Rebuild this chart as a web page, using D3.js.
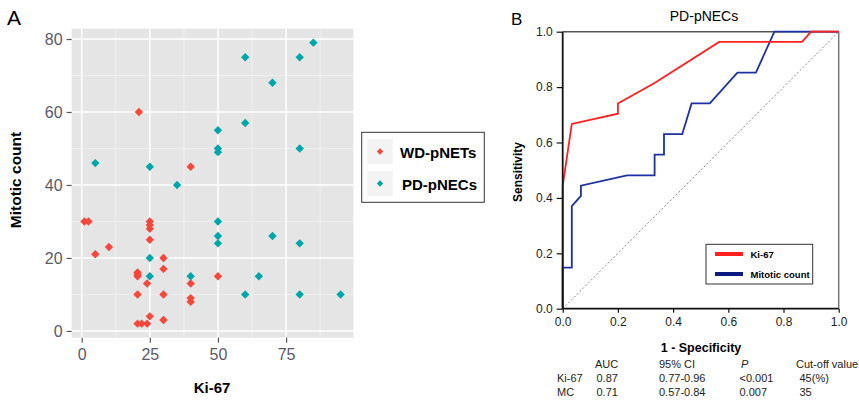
<!DOCTYPE html>
<html>
<head>
<meta charset="utf-8">
<script src="https://cdn.jsdelivr.net/npm/d3@7"></script>
<style>
  body { margin: 0; background: #fff; }
  text { font-family: "Liberation Sans", Arial, sans-serif; }
</style>
</head>
<body>
<div id="chart"></div>
<script>
// Panel A data: Ki-67 (%) vs mitotic count
var wdKi67     = [1, 2.5, 5, 10, 20.5, 20.5, 20.5, 20.5, 20.5, 22, 24, 24, 25, 25, 25, 25, 25, 30, 30, 30, 30, 40, 40, 40, 50, 21, 40];
var wdMitotic  = [30, 30, 21, 23, 16, 15.5, 15, 10, 2, 2, 2, 13, 30, 29, 28, 25, 4, 20, 17, 10, 3, 13, 9, 8, 15, 60, 45];
var pdKi67     = [5, 25, 35, 50, 50, 50, 60, 60, 70, 80, 85, 80, 50, 50, 50, 25, 25, 40, 60, 65, 70, 80, 80, 95];
var pdMitotic  = [46, 45, 40, 55, 50, 49, 75, 57, 68, 75, 79, 50, 30, 26, 24, 20, 15, 15, 10, 15, 26, 24, 10, 10];
var groupNames = ["WD-pNETs", "PD-pNECs"];
var xTicksA = [0, 25, 50, 75];
var yTicksA = [0, 20, 40, 60, 80];

// Panel B data: ROC curves (1 - specificity, sensitivity)
var ki67Fpr = [0, 0, 0.033, 0.2, 0.2, 0.333, 0.567, 0.867, 0.9, 1];
var ki67Tpr = [0, 0.444, 0.667, 0.704, 0.741, 0.815, 0.963, 0.963, 1, 1];
var mcFpr = [0, 0, 0.033, 0.033, 0.066, 0.066, 0.233, 0.333, 0.333, 0.367, 0.367, 0.433, 0.467, 0.533, 0.633, 0.7, 0.767, 1];
var mcTpr = [0, 0.148, 0.148, 0.37, 0.407, 0.444, 0.481, 0.481, 0.556, 0.556, 0.63, 0.63, 0.741, 0.741, 0.852, 0.852, 1, 1];
var rocNames = ["Ki-67", "Mitotic count"];
var ticksB = [0, 0.2, 0.4, 0.6, 0.8, 1.0];

// stats table under panel B
var tableHeader = ["", "AUC", "95% CI", "P", "Cut-off value"];
var tableRows = [
  ["Ki-67", "0.87", "0.77-0.96", "<0.001", "45(%)"],
  ["MC", "0.71", "0.57-0.84", "0.007", "35"]
];

var red = "#f5473c", teal = "#00a6a8";

var svg = d3.select("#chart").append("svg")
  .attr("width", 859).attr("height", 403);

// diamond marker (rotated square)
function diamond(r) {
  return "M0," + (-r) + "L" + r + ",0L0," + r + "L" + (-r) + ",0Z";
}

// ---------------- Panel A ----------------
var xA = d3.scaleLinear().domain([-3.7, 99.7]).range([71.6, 353.4]);
var yA = d3.scaleLinear().domain([-1.85, 82.85]).range([337.7, 28.6]);

var gA = svg.append("g");
gA.append("rect")
  .attr("x", xA.range()[0]).attr("y", yA.range()[1])
  .attr("width", xA.range()[1] - xA.range()[0])
  .attr("height", yA.range()[0] - yA.range()[1])
  .attr("fill", "#e5e5e5");

// minor grid
gA.selectAll(".xminor").data([12.5, 37.5, 62.5, 87.5]).enter().append("line")
  .attr("x1", d => xA(d)).attr("x2", d => xA(d))
  .attr("y1", yA.range()[0]).attr("y2", yA.range()[1])
  .attr("stroke", "#f2f2f2").attr("stroke-width", 0.8);
gA.selectAll(".yminor").data([10, 30, 50, 70]).enter().append("line")
  .attr("y1", d => yA(d)).attr("y2", d => yA(d))
  .attr("x1", xA.range()[0]).attr("x2", xA.range()[1])
  .attr("stroke", "#f2f2f2").attr("stroke-width", 0.8);
// major grid
gA.selectAll(".xmajor").data(xTicksA).enter().append("line")
  .attr("x1", d => xA(d)).attr("x2", d => xA(d))
  .attr("y1", yA.range()[0]).attr("y2", yA.range()[1])
  .attr("stroke", "#fff").attr("stroke-width", 1.5);
gA.selectAll(".ymajor").data(yTicksA).enter().append("line")
  .attr("y1", d => yA(d)).attr("y2", d => yA(d))
  .attr("x1", xA.range()[0]).attr("x2", xA.range()[1])
  .attr("stroke", "#fff").attr("stroke-width", 1.5);

// axes
var xAxisA = gA.append("g")
  .attr("transform", "translate(0," + yA.range()[0] + ")")
  .call(d3.axisBottom(xA).tickValues(xTicksA).tickSize(5).tickPadding(6));
var yAxisA = gA.append("g")
  .attr("transform", "translate(" + xA.range()[0] + ",0)")
  .call(d3.axisLeft(yA).tickValues(yTicksA).tickSize(5).tickPadding(4));
[xAxisA, yAxisA].forEach(function(ax) {
  ax.select(".domain").remove();
  ax.selectAll(".tick line").attr("stroke", "#555").attr("stroke-width", 1.2);
  ax.selectAll(".tick text").attr("fill", "#5a5a66")
    .style("font-size", "16px").style("font-family", "Liberation Sans, Arial, sans-serif");
});

// points
var wdPoints = wdKi67.map((k, i) => ({ x: k, y: wdMitotic[i] }));
var pdPoints = pdKi67.map((k, i) => ({ x: k, y: pdMitotic[i] }));
gA.selectAll(".wd").data(wdPoints).enter().append("path")
  .attr("d", diamond(4.2))
  .attr("transform", d => "translate(" + xA(d.x) + "," + yA(d.y) + ")")
  .attr("fill", red);
gA.selectAll(".pd").data(pdPoints).enter().append("path")
  .attr("d", diamond(4.2))
  .attr("transform", d => "translate(" + xA(d.x) + "," + yA(d.y) + ")")
  .attr("fill", teal);

// axis titles
gA.append("text").attr("x", 212).attr("y", 393)
  .attr("text-anchor", "middle").style("font-size", "15px").style("font-weight", "bold")
  .text("Ki-67");
gA.append("text").attr("transform", "translate(21,180) rotate(-90)")
  .attr("text-anchor", "middle").style("font-size", "15.5px").style("font-weight", "bold")
  .text("Mitotic count");

gA.append("text").attr("x", 7).attr("y", 25).style("font-size", "21px").text("A");

// legend A
var legA = svg.append("g");
legA.append("rect").attr("x", 361.7).attr("y", 132.3).attr("width", 122.6).attr("height", 70)
  .attr("fill", "#fff").attr("stroke", "#333").attr("stroke-width", 1);
groupNames.forEach(function(name, i) {
  var ky = 139 + i * 32;
  legA.append("rect").attr("x", 367.3).attr("y", ky).attr("width", 25.4).attr("height", 25)
    .attr("fill", "#f3f3f3");
  legA.append("path").attr("d", diamond(3.2))
    .attr("transform", "translate(380," + (ky + 12.5) + ")")
    .attr("fill", i === 0 ? red : teal);
  legA.append("text").attr("x", 400 + i * 2).attr("y", ky + 18.5)
    .style("font-size", "15px").style("font-weight", "bold").text(name);
});

// ---------------- Panel B ----------------
var xB = d3.scaleLinear().domain([0, 1]).range([562.7, 838.7]);
var yB = d3.scaleLinear().domain([0, 1]).range([308.7, 31.7]);
var gB = svg.append("g");

// frame top & right
gB.append("line").attr("x1", xB(0)).attr("x2", xB(1)).attr("y1", yB(1)).attr("y2", yB(1))
  .attr("stroke", "#555").attr("stroke-width", 1.5);
gB.append("line").attr("x1", xB(1)).attr("x2", xB(1)).attr("y1", yB(0)).attr("y2", yB(1))
  .attr("stroke", "#777").attr("stroke-width", 1.5);

// reference diagonal
gB.append("line").attr("x1", xB(0)).attr("y1", yB(0)).attr("x2", xB(1)).attr("y2", yB(1))
  .attr("stroke", "#888").attr("stroke-width", 1).attr("stroke-dasharray", "2,2");

var line = d3.line().x(d => xB(d[0])).y(d => yB(d[1]));
gB.append("path").datum(mcFpr.map((f, i) => [f, mcTpr[i]]))
  .attr("d", line).attr("fill", "none").attr("stroke", "#1c31a6").attr("stroke-width", 1.8);
gB.append("path").datum(ki67Fpr.map((f, i) => [f, ki67Tpr[i]]))
  .attr("d", line).attr("fill", "none").attr("stroke", "#ff1f1f").attr("stroke-width", 1.8);

var xAxisB = gB.append("g").attr("transform", "translate(0," + yB(0) + ")")
  .call(d3.axisBottom(xB).tickValues(ticksB).tickFormat(d3.format(".1f")).tickSize(4).tickPadding(5));
var yAxisB = gB.append("g").attr("transform", "translate(" + xB(0) + ",0)")
  .call(d3.axisLeft(yB).tickValues(ticksB).tickFormat(d3.format(".1f")).tickSize(6).tickPadding(4));
[xAxisB, yAxisB].forEach(function(ax) {
  ax.select(".domain").attr("stroke", "#111").attr("stroke-width", 1.8);
  ax.selectAll(".tick line").attr("stroke", "#111").attr("stroke-width", 1.2);
  ax.selectAll(".tick text").attr("fill", "#222")
    .style("font-size", "12px").style("font-family", "Liberation Sans, Arial, sans-serif");
});
xAxisB.select(".domain").attr("d", "M" + xB(0) + ",0H" + xB(1));
yAxisB.select(".domain").attr("d", "M0," + yB(0) + "V" + yB(1));

gB.append("text").attr("x", 704).attr("y", 21).attr("text-anchor", "middle")
  .style("font-size", "14px").text("PD-pNECs");
gB.append("text").attr("x", 701).attr("y", 352).attr("text-anchor", "middle")
  .style("font-size", "12.5px").style("font-weight", "bold").text("1 - Specificity");
gB.append("text").attr("transform", "translate(522,172) rotate(-90)").attr("text-anchor", "middle")
  .style("font-size", "12px").style("font-weight", "bold").text("Sensitivity");
gB.append("text").attr("x", 511).attr("y", 24.5).style("font-size", "17px").text("B");

// legend B
var legB = svg.append("g");
legB.append("rect").attr("x", 706).attr("y", 244.3).attr("width", 106.7).attr("height", 39.7)
  .attr("fill", "#fff").attr("stroke", "#333").attr("stroke-width", 1);
var legColors = ["#ff1f1f", "#0a1a80"];
rocNames.forEach(function(name, i) {
  var ly = 254 + i * 20;
  legB.append("line").attr("x1", 715).attr("x2", 743).attr("y1", ly).attr("y2", ly)
    .attr("stroke", legColors[i]).attr("stroke-width", 4);
  legB.append("text").attr("x", 750.5).attr("y", ly + 3.5)
    .style("font-size", "9.5px").style("font-weight", "bold").text(name);
});

// table
var colX = [557, 595, 659, 739.5, 796];
var tbl = svg.append("g").style("font-size", "11px").attr("fill", "#222");
tableHeader.forEach(function(h, j) {
  tbl.append("text").attr("x", colX[j] + (j === 3 ? 1.5 : 0)).attr("y", 367.5)
    .style("font-style", j === 3 ? "italic" : "normal").text(h);
});
tableRows.forEach(function(row, i) {
  row.forEach(function(c, j) {
    tbl.append("text").attr("x", colX[j] + (j === 1 ? 1.5 : 0) + (j === 4 ? 3.5 : 0))
      .attr("y", 382 + i * 14).text(c);
  });
});
</script>
</body>
</html>
